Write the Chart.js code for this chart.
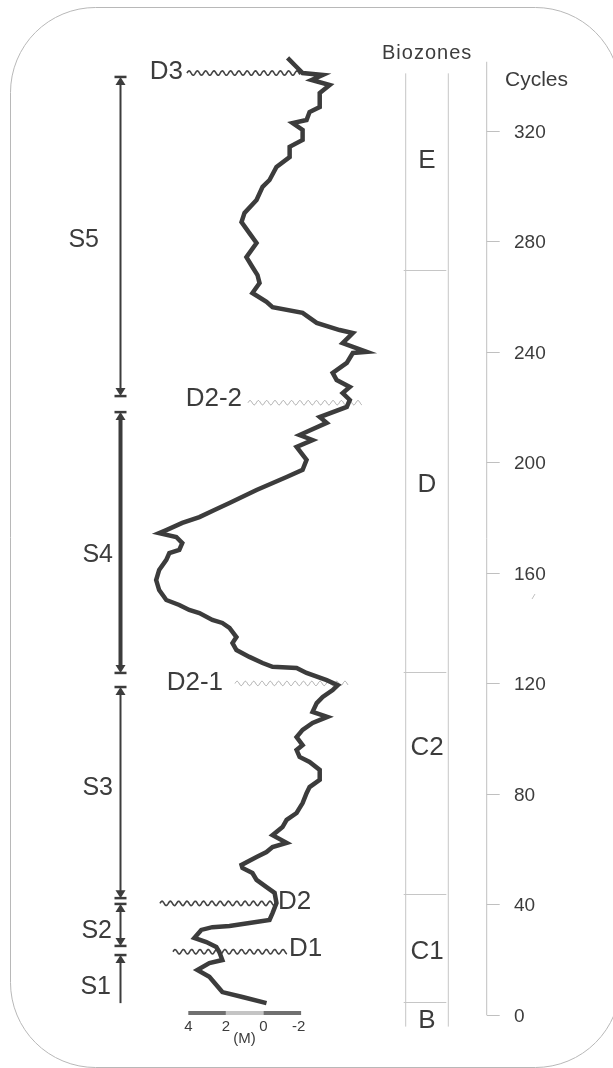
<!DOCTYPE html>
<html>
<head>
<meta charset="utf-8">
<script src="https://cdn.jsdelivr.net/npm/chart.js@4.4.1/dist/chart.umd.min.js"></script>
<style>
html,body{margin:0;padding:0;background:#fff;overflow:hidden}
#wrap{width:613px;height:1068px;position:relative}
</style>
</head>
<body>
<div id="wrap"><canvas id="c" width="613" height="1068"></canvas></div>
<script>
// ---------------- DATA ----------------
// cycle position (vertical) of each traced point of the sea-level curve
const cycles = [4.3,6.5,8.3,13.8,16.3,18.8,19.9,22.8,24.6,26.4,
  27.9,30.8,31.8,32.2,33.3,34.4,36.9,40.5,44.2,46.3,
  48.9,51.4,53.2,54.3,57.2,59.0,60.8,62.3,65.1,68.0,
  70.6,73.1,76.7,80.3,82.5,85.1,88.7,91.6,93.4,95.9,
  97.7,100.6,103.2,105.7,107.9,109.7,112.9,115.1,117.6,119.4,
  121.2,123.8,125.6,126.0,127.4,129.6,132.1,134.6,136.8,140.1,
  141.9,143.0,145.5,146.6,148.4,150.2,153.8,157.4,161.1,164.7,
  167.2,168.3,170.8,173.0,174.4,175.5,178.1,180.2,182.8,185.3,
  190.0,194.7,197.3,200.9,205.6,208.1,209.9,214.3,216.4,220.1,
  222.6,225.1,227.3,229.8,232.4,236.0,239.6,240.0,243.2,246.8,
  247.9,250.5,254.1,256.2,258.1,261.3,264.9,267.8,270.7,274.3,
  279.4,283.0,287.0,290.3,295.0,299.7,302.2,306.9,310.5,314.2,
  316.7,320.3,322.8,323.9,326.8,328.6,333.7,336.6,338.4,340.2,
  340.9,343.1,346.4];
// relative sea level (M) at each point
const mValues = [-0.16,1.12,2.19,2.88,3.52,2.88,2.19,2.35,2.51,3.04,
  3.68,3.31,2.72,1.81,0.75,-0.32,-0.48,-0.69,-0.59,-0.16,
  0.37,0.59,1.12,1.17,0.37,-0.16,-0.48,-1.23,-0.48,-1.01,
  -1.23,-1.76,-2.08,-2.29,-2.45,-2.99,-2.99,-2.45,-1.92,-1.76,
  -2.08,-1.76,-2.08,-2.61,-3.40,-2.61,-2.83,-3.15,-3.68,-3.95,
  -3.36,-2.29,-1.76,-0.48,0.05,0.75,1.44,1.65,1.44,1.81,
  2.19,2.72,3.41,3.95,4.48,5.17,5.55,5.71,5.55,5.17,
  5.01,4.48,4.32,4.64,5.55,5.17,4.32,3.41,2.61,1.81,
  0.37,-1.23,-2.08,-2.29,-1.76,-2.61,-1.92,-3.36,-2.99,-4.43,
  -4.59,-4.21,-4.59,-3.89,-3.68,-4.43,-4.75,-5.49,-4.21,-4.75,
  -4.05,-2.83,-2.08,-0.48,-0.16,0.59,0.21,0.32,0.59,0.91,
  0.37,0.75,1.17,1.01,0.37,0.05,-0.32,-0.69,-1.39,-1.39,
  -2.08,-2.08,-1.55,-2.29,-2.45,-2.99,-2.99,-3.52,-2.56,-3.15,
  -2.08,-1.76,-1.28];

const cycleTicks = [0,40,80,120,160,200,240,280,320];
const scaleBarTicks = [4,2,0,-2];

const zoneNames  = ['B','C1','C2','D','E'];
const zoneBounds = [-4.2, 4.8, 43.8, 124.2, 269.6, 340.8];

const seqNames  = ['S1','S2','S3','S4','S5'];
const seqBottom = [4.3, 25.0, 42.3, 123.8, 224.0];
const seqTop    = [21.7, 40.2, 118.7, 218.2, 339.5];

const discNames  = ['D1','D2','D2-1','D2-2','D3'];
const discCycles = [22.9, 40.4, 120.0, 221.6, 340.9];

// ---------------- LAYOUT / STYLE ----------------
const FONT = '"Liberation Sans", Arial, sans-serif';
const INK = '#3c3c3c';
const L = {
  seqX: 120.5,
  seqLineW: [2, 2, 2, 4, 2],
  seqBottomCap: [false, true, true, true, true],
  seqLabelRight: [111, 112, 113, 113, 99],
  seqLabelAt: [10.9, 31.3, 82.9, 167.2, 281.2],
  zoneLeft: 405.7, zoneRight: 448.3, zoneLabelX: 427,
  zoneLabelAt: [-1.4, 23.5, 97.4, 192.6, 309.9],
  axisX: 486.7, axisTopCycle: 345, tickLen: 13, tickLabelX: 514,
  discX1: [173, 160, 235, 248, 187],
  discX2: [287, 277, 348, 362, 300],
  discLabelX: [289, 278, 223, 242, 183],
  discAlign: ['left', 'left', 'right', 'right', 'right'],
  discLabelAt: [24.6, 41.8, 120.9, 223.8, 342.0],
  discLight: [false, false, true, true, false],
  barY: 1013
};

function capText(ctx, txt, x, cy, size, align) {
  ctx.font = size + 'px ' + FONT;
  ctx.textAlign = align;
  ctx.textBaseline = 'alphabetic';
  ctx.fillText(txt, x, cy + size * 0.36);
}

function wave(ctx, x1, x2, y, amp, period) {
  ctx.beginPath();
  for (let x = x1; x <= x2; x += 0.5) {
    const yy = y - amp * Math.sin((x - x1) / period * 2 * Math.PI);
    if (x === x1) ctx.moveTo(x, yy); else ctx.lineTo(x, yy);
  }
  ctx.stroke();
}

function seqCap(ctx, x, y, dir) {
  // dir = -1 : top cap (arrow points up), +1 : bottom cap (arrow points down)
  ctx.fillRect(x - 6, y - 1.25, 12, 2.5);
  ctx.beginPath();
  ctx.moveTo(x, y);
  ctx.lineTo(x - 5, y - dir * 8);
  ctx.lineTo(x + 5, y - dir * 8);
  ctx.closePath();
  ctx.fill();
}

const decor = {
  id: 'decor',
  beforeDatasetsDraw(chart) {
    const ctx = chart.ctx, xs = chart.scales.x, ys = chart.scales.y;
    ctx.save();
    // rounded frame
    ctx.strokeStyle = '#b8b8b8'; ctx.lineWidth = 1;
    ctx.beginPath(); ctx.roundRect(10.5, 7.5, 610, 1060, 85); ctx.stroke();

    // biozone column
    ctx.strokeStyle = '#c6c6c6'; ctx.lineWidth = 1;
    const zt = ys.getPixelForValue(zoneBounds[zoneBounds.length - 1]);
    const zb = ys.getPixelForValue(zoneBounds[0]);
    ctx.beginPath();
    ctx.moveTo(L.zoneLeft, zt); ctx.lineTo(L.zoneLeft, zb);
    ctx.moveTo(L.zoneRight, zt); ctx.lineTo(L.zoneRight, zb);
    for (let i = 1; i < zoneBounds.length - 1; i++) {
      const y = Math.round(ys.getPixelForValue(zoneBounds[i])) + 0.5;
      ctx.moveTo(L.zoneLeft - 2, y); ctx.lineTo(L.zoneRight - 2, y);
    }
    ctx.stroke();

    // cycles axis
    ctx.strokeStyle = '#c0c0c0';
    ctx.beginPath();
    ctx.moveTo(L.axisX, ys.getPixelForValue(L.axisTopCycle));
    ctx.lineTo(L.axisX, ys.getPixelForValue(0));
    cycleTicks.forEach(t => {
      const y = Math.round(ys.getPixelForValue(t)) + 0.5;
      ctx.moveTo(L.axisX, y); ctx.lineTo(L.axisX + L.tickLen, y);
    });
    ctx.stroke();
    // small stray mark
    ctx.beginPath(); ctx.moveTo(532, 599); ctx.lineTo(535, 594); ctx.stroke();

    // sequence arrows
    ctx.fillStyle = INK; ctx.strokeStyle = INK;
    seqNames.forEach((s, i) => {
      const yT = ys.getPixelForValue(seqTop[i]);
      const yB = ys.getPixelForValue(seqBottom[i]);
      ctx.lineWidth = L.seqLineW[i];
      ctx.beginPath(); ctx.moveTo(L.seqX, yT + 4); ctx.lineTo(L.seqX, L.seqBottomCap[i] ? yB - 4 : yB); ctx.stroke();
      seqCap(ctx, L.seqX, yT, -1);
      if (L.seqBottomCap[i]) seqCap(ctx, L.seqX, yB, 1);
    });

    // discontinuity wavy lines
    discNames.forEach((d, i) => {
      const y = ys.getPixelForValue(discCycles[i]);
      ctx.strokeStyle = L.discLight[i] ? '#a8a8a8' : '#444';
      ctx.lineWidth = L.discLight[i] ? 1 : 1.6;
      wave(ctx, L.discX1[i], L.discX2[i], y, 2.2, 8.3);
    });

    // scale bar
    const bx = scaleBarTicks.map(v => xs.getPixelForValue(v));
    const segCol = ['#707070', '#c4c4c4', '#707070'];
    for (let i = 0; i < bx.length - 1; i++) {
      ctx.fillStyle = segCol[i];
      ctx.fillRect(Math.min(bx[i], bx[i + 1]), L.barY - 2, Math.abs(bx[i + 1] - bx[i]), 4);
    }
    ctx.restore();
  },
  afterDatasetsDraw(chart) {
    const ctx = chart.ctx, xs = chart.scales.x, ys = chart.scales.y;
    ctx.save();
    ctx.fillStyle = INK;
    // headers
    ctx.font = '20px ' + FONT;
    ctx.textAlign = 'left'; ctx.textBaseline = 'alphabetic';
    if ('letterSpacing' in ctx) ctx.letterSpacing = '1px';
    ctx.fillText('Biozones', 382, 59);
    if ('letterSpacing' in ctx) ctx.letterSpacing = '0px';
    ctx.font = '21px ' + FONT;
    ctx.fillText('Cycles', 505, 86);

    // tick labels
    cycleTicks.forEach(t => capText(ctx, String(t), L.tickLabelX, ys.getPixelForValue(t), 19, 'left'));

    // biozone labels
    zoneNames.forEach((z, i) => capText(ctx, z, L.zoneLabelX, ys.getPixelForValue(L.zoneLabelAt[i]), 26, 'center'));

    // sequence labels
    seqNames.forEach((s, i) => capText(ctx, s, L.seqLabelRight[i], ys.getPixelForValue(L.seqLabelAt[i]), 25, 'right'));

    // discontinuity labels
    discNames.forEach((d, i) => capText(ctx, d, L.discLabelX[i], ys.getPixelForValue(L.discLabelAt[i]), 26, L.discAlign[i]));

    // scale bar labels
    ctx.font = '15px ' + FONT; ctx.textAlign = 'center';
    scaleBarTicks.forEach(v => {
      let x = xs.getPixelForValue(v);
      if (v < 0) x -= ctx.measureText('-').width / 2;
      ctx.fillText(String(v), x, 1031);
    });
    ctx.fillText('(M)', 244.5, 1043);
    ctx.restore();
  }
};

const points = cycles.map((c, i) => ({ x: mValues[i], y: c }));

new Chart(document.getElementById('c'), {
  type: 'scatter',
  data: {
    datasets: [{
      data: points,
      showLine: true,
      borderColor: '#3c3c3c',
      borderWidth: 4.5,
      borderJoinStyle: 'miter',
      pointRadius: 0,
      tension: 0,
      fill: false
    }]
  },
  options: {
    responsive: false,
    devicePixelRatio: 1,
    animation: false,
    layout: { padding: 0 },
    plugins: { legend: { display: false }, tooltip: { enabled: false }, title: { display: false } },
    scales: {
      x: { type: 'linear', reverse: true, min: -18.590, max: 14.016, display: false },
      y: { type: 'linear', min: -19.18, max: 367.35, display: false }
    }
  },
  plugins: [decor]
});
</script>
</body>
</html>
